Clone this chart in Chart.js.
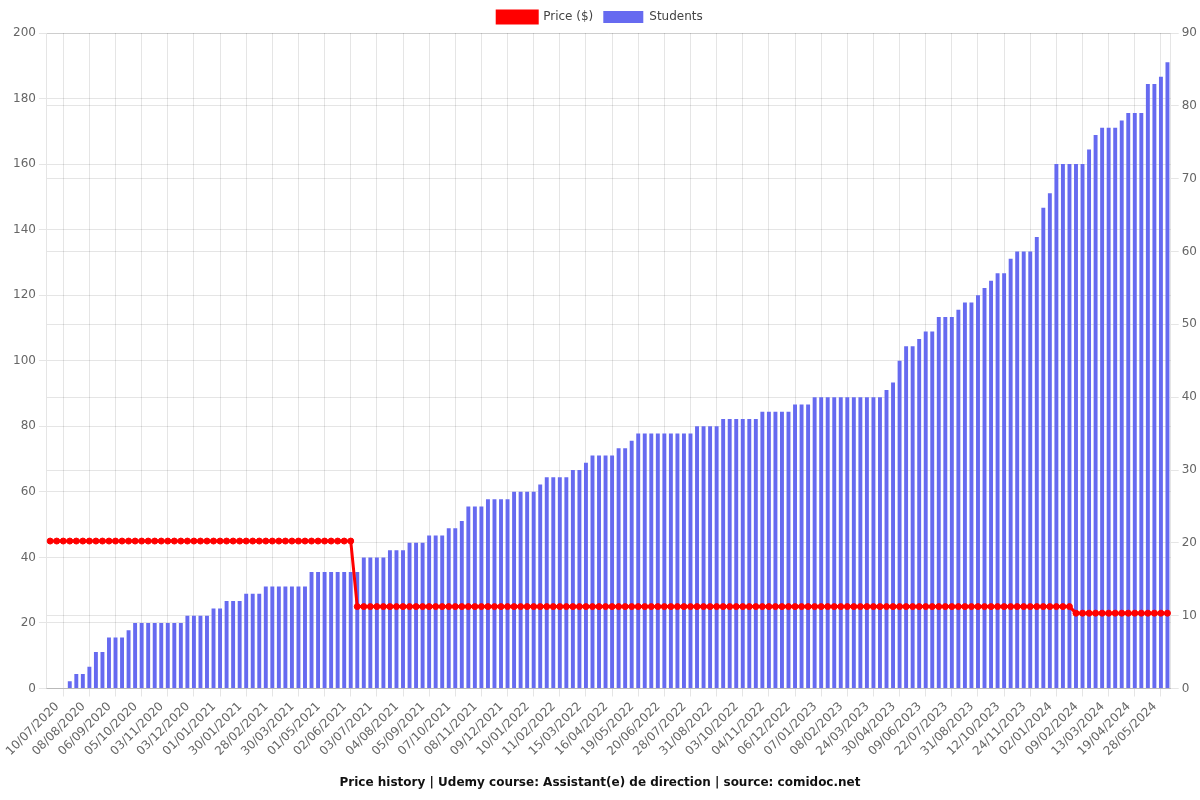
<!DOCTYPE html>
<html>
<head>
<meta charset="utf-8">
<title>Price history</title>
<script src="https://cdn.jsdelivr.net/npm/chart.js@4.4.1/dist/chart.umd.min.js"></script>
<style>
    body { margin: 0; background: #fff; }
    canvas { display: block; }
</style>
</head>
<body>
<canvas id="priceChart" width="1200" height="800"></canvas>
<script>
// dates shown on the x axis (one every 4th point, starting at point 2)
const tickDates = [
    '10/07/2020', '08/08/2020', '06/09/2020', '05/10/2020', '03/11/2020', '03/12/2020',
    '01/01/2021', '30/01/2021', '28/02/2021', '30/03/2021', '01/05/2021', '02/06/2021',
    '03/07/2021', '04/08/2021', '05/09/2021', '07/10/2021', '08/11/2021', '09/12/2021',
    '10/01/2022', '11/02/2022', '15/03/2022', '16/04/2022', '19/05/2022', '20/06/2022',
    '28/07/2022', '31/08/2022', '03/10/2022', '04/11/2022', '06/12/2022', '07/01/2023',
    '08/02/2023', '24/03/2023', '30/04/2023', '09/06/2023', '22/07/2023', '31/08/2023',
    '12/10/2023', '24/11/2023', '02/01/2024', '09/02/2024', '13/03/2024', '19/04/2024',
    '28/05/2024'
];

const students = [
    0, 0, 0, 1, 2, 2, 3, 5, 5, 7,
    7, 7, 8, 9, 9, 9, 9, 9, 9, 9,
    9, 10, 10, 10, 10, 11, 11, 12, 12, 12,
    13, 13, 13, 14, 14, 14, 14, 14, 14, 14,
    16, 16, 16, 16, 16, 16, 16, 16, 18, 18,
    18, 18, 19, 19, 19, 20, 20, 20, 21, 21,
    21, 22, 22, 23, 25, 25, 25, 26, 26, 26,
    26, 27, 27, 27, 27, 28, 29, 29, 29, 29,
    30, 30, 31, 32, 32, 32, 32, 33, 33, 34,
    35, 35, 35, 35, 35, 35, 35, 35, 35, 36,
    36, 36, 36, 37, 37, 37, 37, 37, 37, 38,
    38, 38, 38, 38, 39, 39, 39, 40, 40, 40,
    40, 40, 40, 40, 40, 40, 40, 40, 41, 42,
    45, 47, 47, 48, 49, 49, 51, 51, 51, 52,
    53, 53, 54, 55, 56, 57, 57, 59, 60, 60,
    60, 62, 66, 68, 72, 72, 72, 72, 72, 74,
    76, 77, 77, 77, 78, 79, 79, 79, 83, 83,
    84, 86
];

const prices = [
    44.99, 44.99, 44.99, 44.99, 44.99, 44.99, 44.99, 44.99, 44.99, 44.99,
    44.99, 44.99, 44.99, 44.99, 44.99, 44.99, 44.99, 44.99, 44.99, 44.99,
    44.99, 44.99, 44.99, 44.99, 44.99, 44.99, 44.99, 44.99, 44.99, 44.99,
    44.99, 44.99, 44.99, 44.99, 44.99, 44.99, 44.99, 44.99, 44.99, 44.99,
    44.99, 44.99, 44.99, 44.99, 44.99, 44.99, 44.99, 24.99, 24.99, 24.99,
    24.99, 24.99, 24.99, 24.99, 24.99, 24.99, 24.99, 24.99, 24.99, 24.99,
    24.99, 24.99, 24.99, 24.99, 24.99, 24.99, 24.99, 24.99, 24.99, 24.99,
    24.99, 24.99, 24.99, 24.99, 24.99, 24.99, 24.99, 24.99, 24.99, 24.99,
    24.99, 24.99, 24.99, 24.99, 24.99, 24.99, 24.99, 24.99, 24.99, 24.99,
    24.99, 24.99, 24.99, 24.99, 24.99, 24.99, 24.99, 24.99, 24.99, 24.99,
    24.99, 24.99, 24.99, 24.99, 24.99, 24.99, 24.99, 24.99, 24.99, 24.99,
    24.99, 24.99, 24.99, 24.99, 24.99, 24.99, 24.99, 24.99, 24.99, 24.99,
    24.99, 24.99, 24.99, 24.99, 24.99, 24.99, 24.99, 24.99, 24.99, 24.99,
    24.99, 24.99, 24.99, 24.99, 24.99, 24.99, 24.99, 24.99, 24.99, 24.99,
    24.99, 24.99, 24.99, 24.99, 24.99, 24.99, 24.99, 24.99, 24.99, 24.99,
    24.99, 24.99, 24.99, 24.99, 24.99, 24.99, 24.99, 22.99, 22.99, 22.99,
    22.99, 22.99, 22.99, 22.99, 22.99, 22.99, 22.99, 22.99, 22.99, 22.99,
    22.99, 22.99
];

const labels = students.map((_, i) => (i % 4 === 2 ? tickDates[(i - 2) / 4] : ''));

const gridColor = 'rgba(0, 0, 0, 0.1)';
const shownTick = ctx => (ctx.index % 4 === 2 ? gridColor : 'rgba(0, 0, 0, 0)');

Chart.defaults.font.family = '"DejaVu Sans", sans-serif';
Chart.defaults.font.size = 12;
Chart.defaults.color = '#666';

const ctx = document.getElementById('priceChart').getContext('2d');
const priceChart = new Chart(ctx, {
    type: 'bar',
    data: {
        labels: labels,
        datasets: [{
            type: 'line',
            label: 'Price ($)',
            data: prices,
            yAxisID: 'y',
            borderColor: 'red',
            backgroundColor: 'red',
            borderWidth: 3,
            pointRadius: 3,
            pointBorderWidth: 1,
            pointBackgroundColor: 'red',
            pointBorderColor: 'red',
            tension: 0,
            fill: false
        }, {
            label: 'Students',
            data: students,
            yAxisID: 'y1',
            backgroundColor: 'rgb(102, 106, 240)',
            borderWidth: 0,
            barPercentage: 0.75,
            categoryPercentage: 0.8
        }]
    },
    options: {
        responsive: false,
        animation: false,
        layout: { padding: { top: 1 } },
        plugins: {
            legend: {
                position: 'top',
                labels: { color: '#444' }
            },
            title: {
                display: true,
                position: 'bottom',
                text: 'Price history | Udemy course: Assistant(e) de direction | source: comidoc.net',
                color: '#111',
                font: { weight: 'bold', size: 12 }
            },
            tooltip: { enabled: false }
        },
        scales: {
            x: {
                offset: true,
                grid: { offset: false, color: shownTick, tickColor: shownTick },
                border: { color: gridColor },
                ticks: { autoSkip: false, minRotation: 45, maxRotation: 45, labelOffset: -6 },
                afterFit: scale => { scale.height += 4; }
            },
            y: {
                position: 'left',
                min: 0,
                max: 200,
                ticks: { stepSize: 20 },
                border: { color: gridColor },
                afterFit: scale => { scale.width += 10; }
            },
            y1: {
                position: 'right',
                min: 0,
                max: 90,
                ticks: { stepSize: 10 },
                border: { color: gridColor }
            }
        }
    }
});
</script>
</body>
</html>
